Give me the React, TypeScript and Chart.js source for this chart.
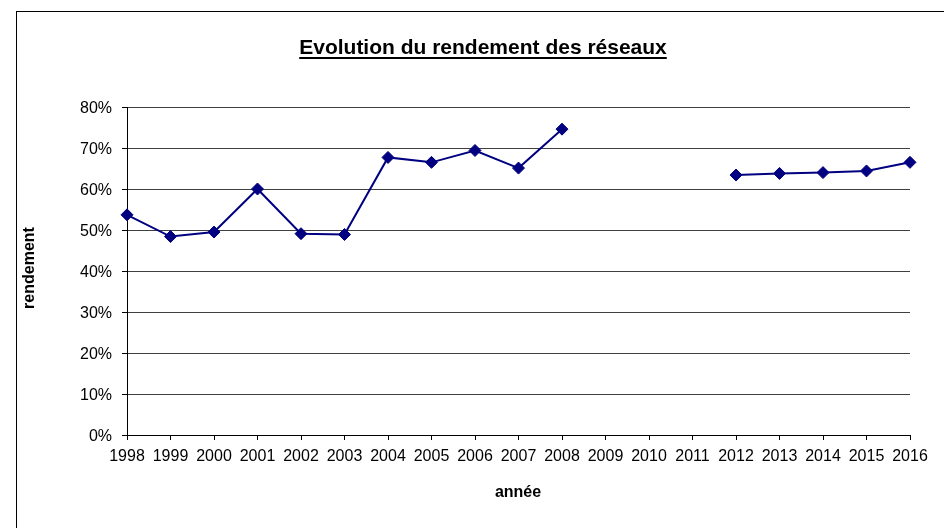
import React, { useEffect, useRef } from "react";
import { Chart, registerables } from "chart.js";

Chart.register(...registerables);

const years = ["1998","1999","2000","2001","2002","2003","2004","2005","2006","2007","2008","2009","2010","2011","2012","2013","2014","2015","2016"];
const rendement: (number | null)[] = [53.7, 48.4, 49.5, 60.0, 49.1, 48.9, 67.7, 66.5, 69.4, 65.1, 74.6, null, null, null, 63.4, 63.8, 64.0, 64.4, 66.5];
const titleText = "Evolution du rendement des réseaux";
const yTitle = "rendement";
const xTitle = "année";

const FONT = "'Liberation Sans', Arial, sans-serif";

const decorPlugin = {
  id: "decor",
  afterDraw(chart: any) {
    const ctx = chart.ctx;
    ctx.save();
    ctx.strokeStyle = "#000";
    ctx.lineWidth = 1;
    ctx.strokeRect(16.5, 11.5, 1200, 1200);
    // title
    ctx.fillStyle = "#000";
    ctx.font = `bold 21px ${FONT}`;
    ctx.textAlign = "center";
    ctx.textBaseline = "alphabetic";
    const tx = 483;
    const ty = 54;
    ctx.fillText(titleText, tx, ty);
    const w = ctx.measureText(titleText).width;
    ctx.beginPath();
    ctx.lineWidth = 2;
    ctx.moveTo(tx - w / 2, ty + 4);
    ctx.lineTo(tx + w / 2, ty + 4);
    ctx.stroke();
    // x title
    ctx.font = `bold 16px ${FONT}`;
    ctx.textBaseline = "middle";
    ctx.fillText(xTitle, 518, 493);
    // y title
    ctx.translate(30, 268);
    ctx.rotate(-Math.PI / 2);
    ctx.fillText(yTitle, 0, 0);
    ctx.restore();
  },
};

export default function App() {
  const ref = useRef<HTMLCanvasElement>(null);
  useEffect(() => {
    if (!ref.current) return;
    const chart = new Chart(ref.current, {
      type: "line",
      data: {
        labels: years,
        datasets: [
          {
            data: rendement,
            borderColor: "#000080",
            backgroundColor: "#000080",
            borderWidth: 2,
            pointStyle: "rectRot",
            pointRadius: 6,
            pointBorderWidth: 1,
            pointBackgroundColor: "#000080",
            pointBorderColor: "#000080",
            spanGaps: false,
            tension: 0,
          },
        ],
      },
      options: {
        animation: false,
        responsive: false,
        maintainAspectRatio: false,
        layout: { padding: { top: 107, right: 34, bottom: 0, left: 0 } },
        plugins: { legend: { display: false }, title: { display: false }, tooltip: { enabled: false } },
        scales: {
          x: {
            offset: false,
            grid: { display: true, drawOnChartArea: false, drawTicks: true, tickLength: 5, tickColor: "#000" },
            border: { display: true, color: "#000" },
            ticks: { autoSkip: false, maxRotation: 0, minRotation: 0, padding: 7, color: "#000", font: { family: FONT, size: 16 } },
            afterFit: (s: any) => { s.height = 93; },
          },
          y: {
            min: 0,
            max: 80,
            grid: { color: "#404040", tickColor: "#000", tickLength: 5, drawTicks: true },
            border: { display: true, color: "#000" },
            ticks: { stepSize: 10, padding: 10, labelOffset: 2, color: "#000", font: { family: FONT, size: 16 }, callback: (v: any) => v + "%" },
            afterFit: (s: any) => { s.width = 127; },
          },
        },
      },
      plugins: [decorPlugin],
    });
    return () => chart.destroy();
  }, []);
  return (
    <div style={{ position: "absolute", left: 0, top: 0, width: 944, height: 528, background: "#fff" }}>
      <canvas ref={ref} width={944} height={528} style={{ display: "block", width: 944, height: 528 }} />
    </div>
  );
}
